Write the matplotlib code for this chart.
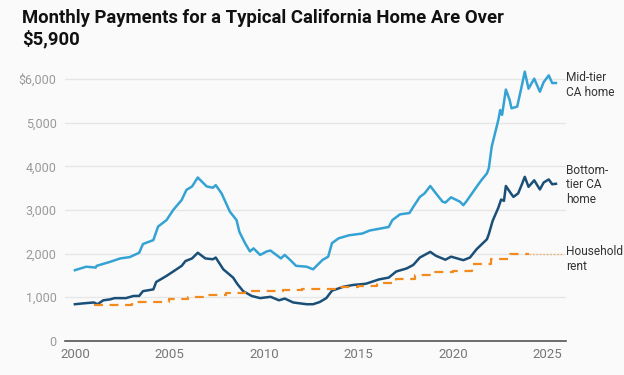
#!/usr/bin/env python3
"""Monthly payments for a typical California home vs household rent."""

import matplotlib
matplotlib.use("Agg")
import matplotlib.pyplot as plt

# mid-tier CA home, monthly payment ($)
mid_years = [2000.0, 2000.6, 2001.1, 2001.15, 2001.85, 2002.4, 2002.9, 2003.4, 2003.6,
             2004.15, 2004.4, 2004.85, 2005.2, 2005.65, 2005.9, 2006.2, 2006.5, 2006.97,
             2007.3, 2007.45, 2007.76, 2008.2, 2008.55, 2008.7, 2009.0, 2009.26, 2009.45,
             2009.8, 2010.15, 2010.35, 2010.9, 2011.1, 2011.4, 2011.7, 2012.26, 2012.6,
             2013.1, 2013.4, 2013.6, 2013.95, 2014.5, 2015.2, 2015.6, 2016.1, 2016.6,
             2016.8, 2017.2, 2017.7, 2017.9, 2018.25, 2018.5, 2018.8, 2019.1, 2019.45,
             2019.6, 2019.9, 2020.37, 2020.55, 2020.7, 2021.25, 2021.5, 2021.8, 2021.9,
             2022.05, 2022.4, 2022.5, 2022.6, 2022.8, 2023.0, 2023.1, 2023.4, 2023.65,
             2023.8, 2024.0, 2024.3, 2024.6, 2024.8, 2025.07, 2025.25, 2025.45]
mid_vals = [1620, 1700, 1680, 1720, 1810, 1890, 1920, 2020, 2220,
            2310, 2620, 2770, 3000, 3230, 3460, 3540, 3745, 3540,
            3510, 3570, 3380, 2960, 2770, 2500, 2240, 2050, 2120,
            1970, 2050, 2070, 1890, 1970, 1850, 1720, 1700, 1640,
            1855, 1930, 2240, 2350, 2420, 2460, 2530, 2570, 2610,
            2770, 2900, 2930, 3070, 3300, 3380, 3550, 3380, 3190,
            3170, 3290, 3190, 3110, 3190, 3530, 3680, 3840, 3960,
            4450, 5060, 5290, 5180, 5760, 5520, 5330, 5370, 5860,
            6170, 5780, 6010, 5710, 5930, 6085, 5910, 5910]

# bottom-tier CA home
bot_years = [2000.0, 2000.45, 2001.0, 2001.2, 2001.5, 2001.85, 2002.1, 2002.7, 2003.1,
             2003.4, 2003.6, 2004.15, 2004.3, 2004.85, 2005.2, 2005.65, 2005.85, 2006.2,
             2006.5, 2006.9, 2007.3, 2007.45, 2007.85, 2008.37, 2008.6, 2008.9, 2009.35,
             2009.8, 2010.35, 2010.8, 2011.1, 2011.55, 2012.26, 2012.6, 2012.95, 2013.3,
             2013.6, 2014.2, 2014.7, 2015.4, 2016.1, 2016.6, 2017.0, 2017.55, 2017.9,
             2018.25, 2018.8, 2019.1, 2019.6, 2019.9, 2020.55, 2020.9, 2021.25, 2021.8,
             2021.9, 2022.1, 2022.4, 2022.55, 2022.7, 2022.8, 2023.05, 2023.2, 2023.45,
             2023.65, 2023.8, 2024.0, 2024.3, 2024.6, 2024.8, 2025.07, 2025.25, 2025.45]
bot_vals = [840, 860, 880, 840, 930, 950, 980, 980, 1030,
            1030, 1140, 1180, 1350, 1490, 1590, 1720, 1830, 1890,
            2020, 1890, 1870, 1910, 1640, 1450, 1300, 1140, 1030,
            980, 1010, 930, 970, 880, 840, 840, 890, 980,
            1150, 1240, 1280, 1310, 1410, 1450, 1590, 1660, 1740,
            1910, 2040, 1950, 1860, 1930, 1850, 1910, 2100, 2330,
            2450, 2750, 3050, 3240, 3210, 3550, 3390, 3300, 3380,
            3590, 3760, 3530, 3680, 3470, 3630, 3700, 3590, 3600]

# household rent, annual steps
rent_years = [2001, 2002, 2003, 2004, 2005, 2006, 2007, 2008, 2009, 2010, 2011, 2012,
              2013, 2014, 2015, 2016, 2017, 2018, 2019, 2020, 2021, 2022, 2023, 2024]
rent_vals = [820, 830, 880, 900, 960, 1010, 1040, 1100, 1150, 1150, 1170, 1180,
             1200, 1230, 1260, 1330, 1420, 1500, 1580, 1600, 1760, 1870, 2000, 2000]
rent_proj_years = [2024, 2025.8]
rent_proj_vals = [2000, 2000]

yticks = [0, 1000, 2000, 3000, 4000, 5000, 6000]
ytick_labels = ["0", "1,000", "2,000", "3,000", "4,000", "5,000", "$6,000"]
xticks = [2000, 2005, 2010, 2015, 2020, 2025]

BG = "#fafafa"
MID = "#35a2d4"
BOT = "#1a4f78"
RENT = "#f28a1e"

plt.rcParams["font.family"] = ["Roboto", "DejaVu Sans"]

fig = plt.figure(figsize=(6.24, 3.75), dpi=100, facecolor=BG)
ax = fig.add_axes([0.104, 0.091, 0.803, 0.733], facecolor=BG)

ax.plot(mid_years, mid_vals, color=MID, lw=1.8, solid_joinstyle="round")
ax.plot(bot_years, bot_vals, color=BOT, lw=1.8, solid_joinstyle="round")
ax.plot(rent_years, rent_vals, color=RENT, lw=1.6, ls=(0, (4, 3)), drawstyle="steps-post")
ax.plot(rent_proj_years, rent_proj_vals, color=RENT, lw=1.0, ls=(0, (1, 1.5)), alpha=0.7)

ax.set_xlim(1999.47, 2025.98)
ax.set_ylim(0, 6300)
ax.set_yticks(yticks)
ax.set_yticklabels(ytick_labels)
ax.set_xticks(xticks)
ax.grid(axis="y", color="#e6e6e6", lw=1)
ax.set_axisbelow(True)
for s in ["top", "right", "left"]:
    ax.spines[s].set_visible(False)
ax.spines["bottom"].set_color("#555555")
ax.spines["bottom"].set_linewidth(1.2)
ax.tick_params(axis="y", length=0, pad=6, labelsize=9, labelcolor="#999999")
ax.tick_params(axis="x", length=0, pad=5, labelsize=9.5, labelcolor="#777777")

lab = dict(fontsize=8.6, color="#333333", va="center", ha="left", linespacing=1.15,
           transform=ax.get_yaxis_transform(), clip_on=False)
ax.text(1.0, 5870, "Mid-tier\nCA home", **lab)
ax.text(1.0, 3580, "Bottom-\ntier CA\nhome", **lab)
ax.text(1.0, 1880, "Household\nrent", **lab)

fig.text(0.035, 0.975, "Monthly Payments for a Typical California Home Are Over\n$5,900",
         fontsize=13.3, fontweight="bold", color="#111111", va="top", ha="left",
         linespacing=1.2)

fig.savefig("out.png", dpi=100, facecolor=BG)
